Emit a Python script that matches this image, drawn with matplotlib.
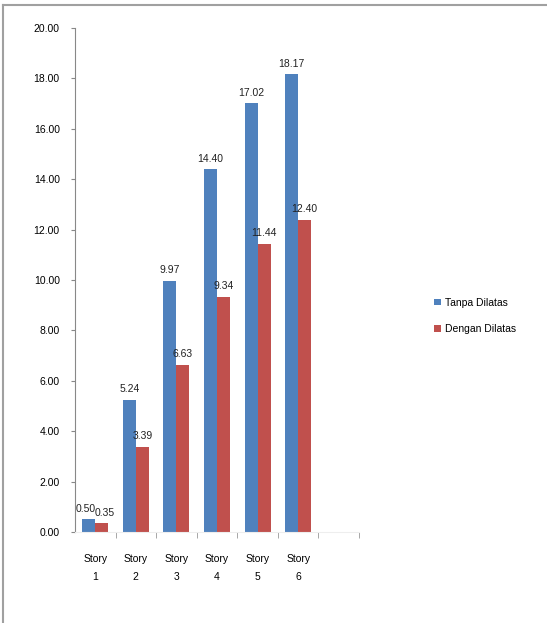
import matplotlib.pyplot as plt
import numpy as np
from matplotlib.lines import Line2D

stories = ["Story\n1", "Story\n2", "Story\n3", "Story\n4", "Story\n5", "Story\n6"]
tanpa = [0.50, 5.24, 9.97, 14.40, 17.02, 18.17]
dengan = [0.35, 3.39, 6.63, 9.34, 11.44, 12.40]
series_names = ["Tanpa Dilatas", "Dengan Dilatas"]
yticks = [0, 2, 4, 6, 8, 10, 12, 14, 16, 18, 20]

blue = "#4F81BD"
red = "#C0504D"

plt.rcParams["font.family"] = ["Liberation Sans", "DejaVu Sans"]

fig = plt.figure(figsize=(5.47, 6.23), dpi=100)
ax = fig.add_axes([75 / 547, 91 / 623, 284 / 547, 504 / 623])

x = np.arange(len(stories))
w = 0.32
b1 = ax.bar(x - w / 2, tanpa, w, color=blue, label=series_names[0])
b2 = ax.bar(x + w / 2, dengan, w, color=red, label=series_names[1])

for bars, vals, dx in ((b1, tanpa, -2), (b2, dengan, 2)):
    for i, (rect, v) in enumerate(zip(bars, vals)):
        # the two story-1 labels sit side by side, nudge them apart
        off = dx if i == 0 else 0
        ax.annotate(f"{v:.2f}", (rect.get_x() + rect.get_width() / 2, v),
                    xytext=(off, 4), textcoords="offset points",
                    ha="center", va="bottom", fontsize=7.5, color="#222222")

ax.set_xlim(-0.5, 6.5)
ax.set_ylim(0, 20)
ax.set_yticks(yticks)
ax.set_yticklabels([f"{t:.2f}" for t in yticks], fontsize=7.5)
ax.set_xticks(x)
ax.set_xticklabels(stories, fontsize=7.5, linespacing=2.0)
ax.set_xticks(np.arange(-0.5, 7, 1)[1:], minor=True)
ax.tick_params(axis="x", which="major", length=0, pad=16)
ax.tick_params(axis="x", which="minor", length=4, color="#999999", direction="out")
ax.tick_params(axis="y", length=3, color="#888888", pad=8)

for s in ("top", "right"):
    ax.spines[s].set_visible(False)
ax.spines["left"].set_color("#888888")
ax.spines["bottom"].set_color("#eeeeee")

# frame lines along the top and left of the figure
fig.add_artist(Line2D([3 / 547, 3 / 547], [0, 1 - 5 / 623], color="#a0a0a0", lw=1.5))
fig.add_artist(Line2D([3 / 547, 1], [1 - 5 / 623, 1 - 5 / 623], color="#a0a0a0", lw=1.5))

fig.legend(handles=[b1, b2], loc="center left", bbox_to_anchor=(425 / 547, 1 - 316 / 623),
           frameon=False, fontsize=7.5, handlelength=0.6, handleheight=0.6,
           handletextpad=0.4, labelspacing=1.6)

fig.savefig("out.png", dpi=100)
